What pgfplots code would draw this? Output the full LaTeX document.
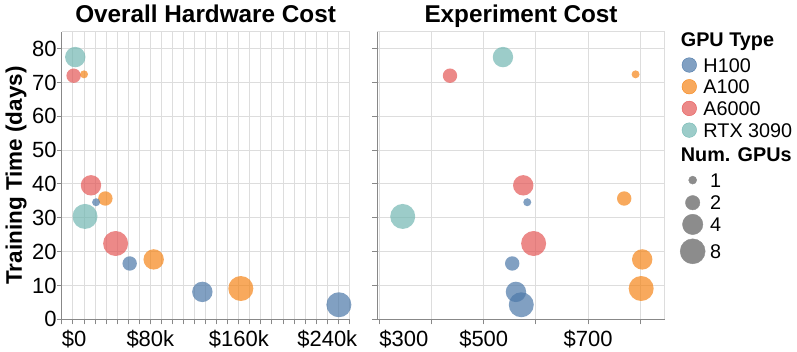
\documentclass[border=0pt]{standalone}
\usepackage{pgfplots}
\pgfplotsset{compat=1.18}
\usepackage{pgfplotstable}
\usepackage{fontspec}
\setmainfont{Liberation Sans}

\definecolor{cH}{HTML}{4C78A8}
\definecolor{cA}{HTML}{F58518}
\definecolor{cR}{HTML}{E45756}
\definecolor{cT}{HTML}{72B7B2}
\definecolor{gridc}{HTML}{DDDDDD}
\definecolor{axisc}{HTML}{888888}

% g: 1 = H100, 2 = A100, 3 = A6000, 4 = RTX 3090; n = number of GPUs
% hw = overall hardware cost (k$), exp = experiment cost ($), days = training time
\pgfplotstableread{
g n hw exp days
4 4 12.1 536.8 77.5
3 2 10.6 435.3 72.0
2 1 20.0 791.0 72.4
3 4 26.3 575.7 39.6
2 2 39.3 769.2 35.7
1 1 30.9 583.4 34.6
4 8 20.9 344.7 30.4
3 8 48.6 595.6 22.4
1 2 61.3 554.6 16.5
2 4 83.0 803.7 17.7
1 4 127.0 561.7 8.1
2 8 161.8 801.7 9.1
1 8 250.5 571.9 4.3
}\runs

\pgfplotsset{
  panel/.style={
    anchor=south west, scale only axis,
    width=287.5pt, height=287.6pt,
    ymin=0, ymax=85, ytick={0,10,...,80},
    axis x line*=bottom, axis y line*=left,
    axis line style={axisc, line width=1pt, -},
    tick style={axisc, line width=1pt},
    tick align=outside,
    major tick length=5pt, minor tick length=5pt,
    grid=both,
    major grid style={gridc, line width=1pt},
    minor grid style={gridc, line width=1pt},
    ticklabel style={font=\fontsize{22}{22}\selectfont},
    /pgf/number format/assume math mode=true,
    xticklabel style={anchor=north, inner sep=0pt, yshift=-6pt},
    yticklabel style={anchor=east, inner sep=0pt},
    title style={font=\bfseries\fontsize{24.3}{24.3}\selectfont, at={(0.5,1)}, anchor=base, yshift=3pt, inner sep=0pt},
    clip=false,
  },
  bubbles/.style={
    scatter, only marks, mark=*,
    visualization depends on={\thisrow{n}\as\ngpu},
    visualization depends on={\thisrow{g}\as\gcode},
    scatter/@pre marker code/.code={%
      \pgfmathtruncatemacro\gg{\gcode}%
      \pgfmathsetmacro\rr{ifthenelse(\ngpu<1.5,4,ifthenelse(\ngpu<3,7.2,ifthenelse(\ngpu<6,10.2,12.5)))}%
      \pgfscope
      \ifcase\gg\or\pgfsetfillcolor{cH}\or\pgfsetfillcolor{cA}\or\pgfsetfillcolor{cR}\or\pgfsetfillcolor{cT}\fi
      \pgfsetfillopacity{0.7}%
      \pgfsetstrokeopacity{0}%
      \pgfsetplotmarksize{\rr pt}%
    },
    scatter/@post marker code/.code={\endpgfscope},
  },
}

\begin{document}
\begin{tikzpicture}
\useasboundingbox (0pt,0pt) rectangle (797pt,351pt);

\begin{axis}[panel,
  at={(61.9pt,31.7pt)},
  title={Overall Hardware Cost},
  xmin=0, xmax=260,
  xtick={0,80,160,240},
  xticklabels={\makebox[0pt][l]{\$0},\$80k,\$160k,\$240k},
  minor xtick={0,10,...,260},
  ylabel={Training Time (days)},
  ylabel style={font=\bfseries\fontsize{22.5}{22.5}\selectfont, at={(axis description cs:-0.1597,0.5)}, anchor=center, inner sep=0pt},
]
\draw[gridc, line width=1pt] (rel axis cs:0,1) -- (rel axis cs:1,1) -- (rel axis cs:1,0);
\addplot[bubbles] table[x=hw, y=days] {\runs};
\end{axis}

\begin{axis}[panel,
  at={(377.3pt,31.7pt)},
  title={Experiment Cost},
  xmin=296, xmax=847,
  xtick={300,500,700},
  xticklabels={\makebox[0pt][l]{\$300},\$500,\$700},
  minor xtick={400,600,800},
  yticklabels={},
  legend cell align=left,
  legend style={at={(1.0528,1.0118)}, anchor=north west,
    draw=none, fill=none, inner sep=0pt, outer sep=0pt,
    row sep=0.5pt, column sep=4.8pt,
    font=\fontsize{19.8}{19.8}\selectfont,
    nodes={inner xsep=0pt, inner ysep=3.5pt, text height=14.2pt, text depth=0pt}},
]
\draw[gridc, line width=1pt] (rel axis cs:0,1) -- (rel axis cs:1,1) -- (rel axis cs:1,0);
\addplot[bubbles, forget plot] table[x=exp, y=days] {\runs};

\addlegendimage{legend image code/.code={}}
\addlegendentry[text depth=4.4pt]{\hspace*{-29.3pt}\textbf{GPU Type}}
\addlegendimage{legend image code/.code={\fill[cH, fill opacity=0.7] (-3.4pt,0pt) circle (7.3pt);}}
\addlegendentry{\hspace*{-6.7pt}H100}
\addlegendimage{legend image code/.code={\fill[cA, fill opacity=0.7] (-3.4pt,0pt) circle (7.3pt);}}
\addlegendentry{\hspace*{-6.7pt}A100}
\addlegendimage{legend image code/.code={\fill[cR, fill opacity=0.7] (-3.4pt,0pt) circle (7.3pt);}}
\addlegendentry{\hspace*{-6.7pt}A6000}
\addlegendimage{legend image code/.code={\fill[cT, fill opacity=0.7] (-3.4pt,0pt) circle (7.3pt);}}
\addlegendentry{\hspace*{-6.7pt}RTX 3090}
\addlegendimage{legend image code/.code={}}
\addlegendentry[text height=17.1pt, text depth=3.7pt]{\hspace*{-29.3pt}\textbf{Num. GPUs}}
\addlegendimage{legend image code/.code={\fill[black!45] (0pt,0pt) circle (4pt);}}
\addlegendentry{1}
\addlegendimage{legend image code/.code={\fill[black!45] (0pt,0pt) circle (7.2pt); \path (0pt,11.3pt);}}
\addlegendentry{2}
\addlegendimage{legend image code/.code={\fill[black!45] (0pt,0pt) circle (10.2pt);}}
\addlegendentry{4}
\addlegendimage{legend image code/.code={\fill[black!45] (0pt,0pt) circle (12.5pt); \path (0pt,15.6pt);}}
\addlegendentry{8}
\end{axis}
\end{tikzpicture}
\end{document}
